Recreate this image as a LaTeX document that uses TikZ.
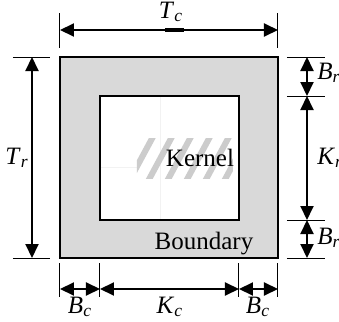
\documentclass[tikz,border=0pt]{standalone}
\usepackage{fontspec}
\setmainfont{Liberation Serif}
\usetikzlibrary{arrows.meta}
\newcommand{\dimsym}[2]{\textit{#1}\textsubscript{\textit{#2}}}

\begin{document}
\begin{tikzpicture}[x=0.5pt,y=-0.5pt,
  dimline/.style={line width=1pt,{Triangle[length=7pt,width=6.5pt]}-{Triangle[length=7pt,width=6.5pt]}},
  extline/.style={line width=0.5pt},
  every node/.style={font=\fontsize{12.5}{14}\selectfont,inner sep=0pt}]
  \useasboundingbox (0,0) rectangle (339,322);

  % outer and inner blocks
  \coordinate (ONW) at (60,57);
  \coordinate (OSE) at (278,258);
  \coordinate (INW) at (100,96);
  \coordinate (ISE) at (239,220);
  \draw[line width=1.3pt, fill=black!15] (ONW) rectangle (OSE);
  \draw[line width=1.3pt, fill=white] (INW) rectangle (ISE);

  \draw[black!5, line width=0.4pt] (160,97) -- (160,219);
  \draw[black!5, line width=0.4pt] (101,167) -- (137,167);
  \begin{scope}
    \clip (137,138) rectangle (233,178);
    \foreach \i in {0,...,7}
      \draw[black!20, line width=3pt] (108+\i*19,185) -- ++(28,-52);
  \end{scope}

  \node (kernel) at (200,158) {Kernel};
  \node (boundary) at (204,244) {Boundary};

  % top
  \draw[extline] (60,13) -- (60,48);
  \draw[extline] (278,13) -- (278,48);
  \coordinate (T1) at (60,30);
  \coordinate (T2) at (278,30);
  \draw[dimline] (T1) -- (T2);
  \draw[line width=1.6pt] (165,30) -- (184,30);
  \node (Tc) at (171,12) {\dimsym{T}{c}};

  % left
  \draw[extline] (13,57) -- (50,57);
  \draw[extline] (13,258) -- (50,258);
  \coordinate (L1) at (32,57);
  \coordinate (L2) at (32,258);
  \draw[dimline] (L1) -- (L2);
  \node (Tr) at (17,158) {\dimsym{T}{r}};

  % right
  \foreach \y in {57,96,220,258}
    \draw[extline] (287,\y) -- (325,\y);
  \coordinate (R1) at (307,57);
  \coordinate (R2) at (307,96);
  \coordinate (R3) at (307,220);
  \coordinate (R4) at (307,258);
  \draw[dimline] (R1) -- (R2);
  \draw[dimline] (R2) -- (R3);
  \draw[dimline] (R3) -- (R4);
  \node[anchor=west] (Br1) at (317,73) {\dimsym{B}{r}};
  \node[anchor=west] (Kr) at (317,158) {\dimsym{K}{r}};
  \node[anchor=west] (Br2) at (317,238) {\dimsym{B}{r}};

  % bottom
  \foreach \x in {60,100,239,278}
    \draw[extline] (\x,263) -- (\x,297);
  \coordinate (B1) at (60,289);
  \coordinate (B2) at (100,289);
  \coordinate (B3) at (239,289);
  \coordinate (B4) at (278,289);
  \draw[dimline] (B1) -- (B2);
  \draw[dimline] (B2) -- (B3);
  \draw[dimline] (B3) -- (B4);
  \node (Bc1) at (80,307) {\dimsym{B}{c}};
  \node (Kc) at (170,307) {\dimsym{K}{c}};
  \node (Bc2) at (258,307) {\dimsym{B}{c}};
\end{tikzpicture}
\end{document}
